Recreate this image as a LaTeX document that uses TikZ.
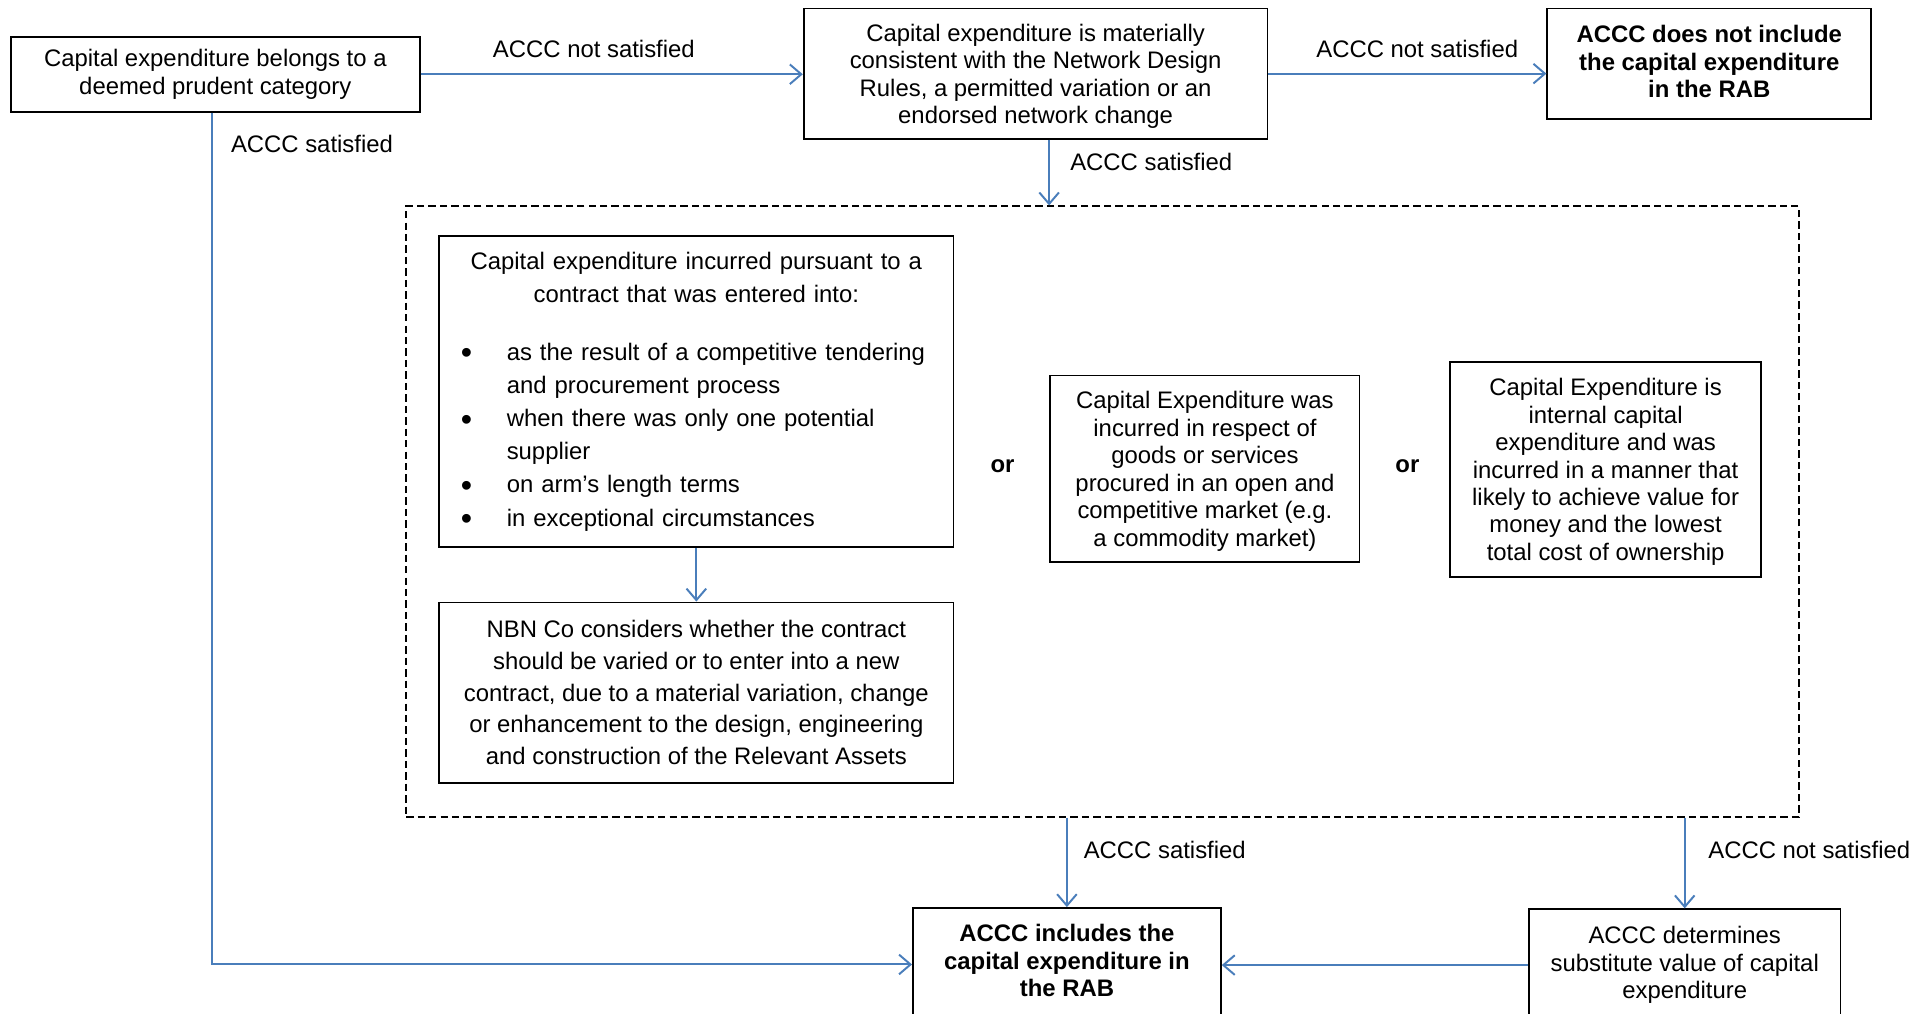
\documentclass[tikz,border=0pt]{standalone}
\usepackage{fontspec}
\setmainfont{Liberation Sans}
\usetikzlibrary{arrows.meta}
\definecolor{arrblue}{HTML}{4A7EBB}
\newcommand\diagfont{\fontsize{14.6pt}{16.8pt}\selectfont}
\newcommand\bitem[1]{\par\noindent\hangindent=27pt\hangafter=1\makebox[27pt][l]{\hspace*{-1pt}\raisebox{-2.2pt}{\scalebox{1.35}{\textbullet}}}#1}
\tikzset{
  box/.style={draw, line width=1.1pt, inner sep=0pt, align=center, font=\diagfont},
  boldbox/.style={box, font=\diagfont\bfseries},
  grpbox/.style={draw, line width=0.9pt, dash pattern=on 4.5pt off 2.5pt, inner sep=0pt},
  arr/.style={draw=arrblue, line width=1.2pt, -{Straight Barb[length=7pt,width=12pt]}},
  lbl/.style={font=\diagfont, inner sep=0pt},
  orlbl/.style={font=\diagfont\bfseries, inner sep=0pt}
}
\begin{document}
\begin{tikzpicture}[x=0.75pt,y=-0.75pt]
\useasboundingbox (0,0) rectangle (1568,826);

\node[box, minimum width=249.75pt, minimum height=45.75pt] (a) at (175.5,60.5)
  {Capital expenditure belongs to a\\deemed prudent category};
\node[box, minimum width=283.5pt, minimum height=79.5pt, text depth=0pt] (b) at (844,60)
  {Capital expenditure is materially\\consistent with the Network Design\\Rules, a permitted variation or an\\endorsed network change};
\node[boldbox, minimum width=198pt, minimum height=67.5pt, text depth=3pt] (c) at (1393,52)
  {ACCC does not include\\the capital expenditure\\in the RAB};

\node[grpbox, minimum width=851.25pt, minimum height=373.5pt] (grp) at (898.5,417) {};

\node[draw, line width=1.1pt, inner sep=0pt, minimum width=314.25pt, minimum height=190.5pt,
      text width=285.75pt, align=left, font=\fontsize{14.6pt}{20.3pt}\selectfont] (d) at (567.5,319)
  {{\centering Capital expenditure incurred pursuant to a\\contract that was entered into:\par}\vspace{15pt}%
   \bitem{as the result of a competitive tendering\newline and procurement process}%
   \bitem{when there was only one potential\newline supplier}%
   \bitem{on arm’s length terms}%
   \bitem{in exceptional circumstances}};
\node[box, minimum width=314.25pt, minimum height=110.25pt, font=\fontsize{14.6pt}{19.4pt}\selectfont] (e) at (567.5,564.5)
  {NBN Co considers whether the contract\\should be varied or to enter into a new\\contract, due to a material variation, change\\or enhancement to the design, engineering\\and construction of the Relevant Assets};
\node[orlbl] (or1) at (817,380) {or};
\node[box, minimum width=189pt, minimum height=114pt, text depth=0pt] (f) at (982,382)
  {Capital Expenditure was\\incurred in respect of\\goods or services\\procured in an open and\\competitive market (e.g.\\a commodity market)};
\node[orlbl] (or2) at (1147,380) {or};
\node[box, minimum width=189.75pt, minimum height=131.25pt, text depth=0pt] (g) at (1308.5,382.5)
  {Capital Expenditure is\\internal capital\\expenditure and was\\incurred in a manner that\\likely to achieve value for\\money and the lowest\\total cost of ownership};

\node[boldbox, minimum width=188.25pt, minimum height=69pt, text depth=4.5pt] (h) at (869.5,786)
  {ACCC includes the\\capital expenditure in\\the RAB};
\node[box, minimum width=190.5pt, minimum height=68.25pt] (i) at (1373,786.5)
  {ACCC determines\\substitute value of capital\\expenditure};

\draw[arr] (a.east) -- (a.east -| b.west);
\draw[arr] (b.east) -- (b.east -| c.west);
\draw[arr] ([xshift=8.25pt]b.south) -- ([xshift=8.25pt]b.south |- grp.north);
\draw[arr] (d.south) -- (e.north);
\draw[arr] (h.north |- grp.south) -- (h.north);
\draw[arr] (i.north |- grp.south) -- (i.north);
\draw[arr] (i.west) -- (i.west -| h.east);
\draw[arr] ([xshift=-1.9pt]a.south) |- (h.west);

\node[lbl] (l1) at (484,40) {ACCC not satisfied};
\node[lbl] (l2) at (1155,40) {ACCC not satisfied};
\node[lbl, anchor=west] (l3) at (188,117) {ACCC satisfied};
\node[lbl, anchor=west] (l4) at (872,132) {ACCC satisfied};
\node[lbl, anchor=west] (l5) at (883,693) {ACCC satisfied};
\node[lbl, anchor=west] (l6) at (1392,693) {ACCC not satisfied};
\end{tikzpicture}
\end{document}
